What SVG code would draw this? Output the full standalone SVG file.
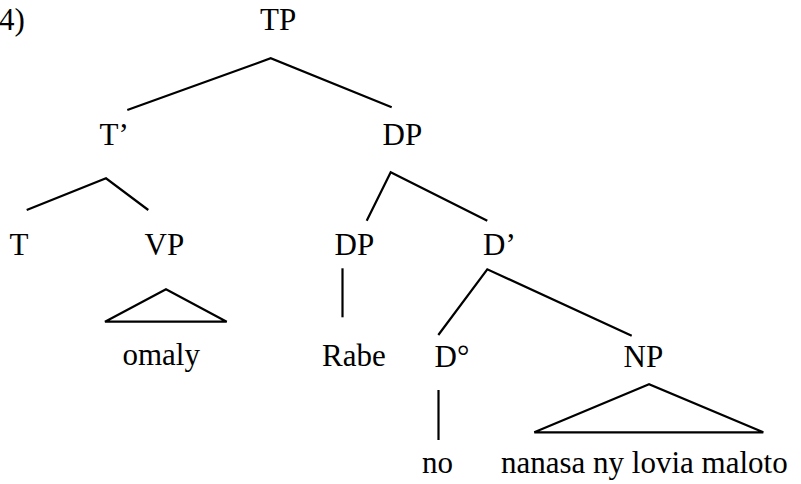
<svg xmlns="http://www.w3.org/2000/svg" width="801" height="484" viewBox="0 0 801 484">
<style>
text { font-family: "Liberation Serif", "Times New Roman", serif; font-size: 31px; fill: #000; }
.e { fill: none; stroke: #000; stroke-width: 2.2; stroke-linejoin: miter; }
</style>
<rect width="801" height="484" fill="#fff"/>
<text x="-1" y="30">4)</text>
<g id="connectors">
  <polyline class="e" points="127.3,110 270.7,58.3 391.7,107.3"/>
  <polyline class="e" points="26.7,210 106,178.3 148.3,210"/>
  <polyline class="e" points="366.7,220.7 390.7,172.3 487.3,220.7"/>
  <line class="e" x1="342.5" y1="268.3" x2="342.5" y2="317.3"/>
  <polygon class="e" points="166,289.3 105,321.7 226.7,321.7"/>
  <polyline class="e" points="438.3,335 487.3,269.3 631.7,335.7"/>
  <line class="e" x1="438.5" y1="390" x2="438.5" y2="440"/>
  <polygon class="e" points="649,384.3 534.3,432.3 763.3,432.3"/>
</g>
<g id="TP"><text x="260" y="30">TP</text></g>
<g id="Tbar"><text x="99.5" y="145">T’</text></g>
<g id="DP1"><text x="382.5" y="145">DP</text></g>
<g id="T"><text x="9.5" y="255">T</text></g>
<g id="VP"><text x="144.5" y="255">VP</text></g>
<g id="DP2"><text x="334.5" y="255">DP</text></g>
<g id="Dbar"><text x="483" y="255">D’</text></g>
<g id="omaly"><text x="122.5" y="365">omaly</text></g>
<g id="Rabe"><text x="322" y="366">Rabe</text></g>
<g id="D0"><text x="434.5" y="366.7">D°</text></g>
<g id="NP"><text x="623.5" y="366.7">NP</text></g>
<g id="no"><text x="422" y="473.3">no</text></g>
<g id="nanasa"><text x="501" y="473.3">nanasa ny lovia maloto</text></g>
</svg>
